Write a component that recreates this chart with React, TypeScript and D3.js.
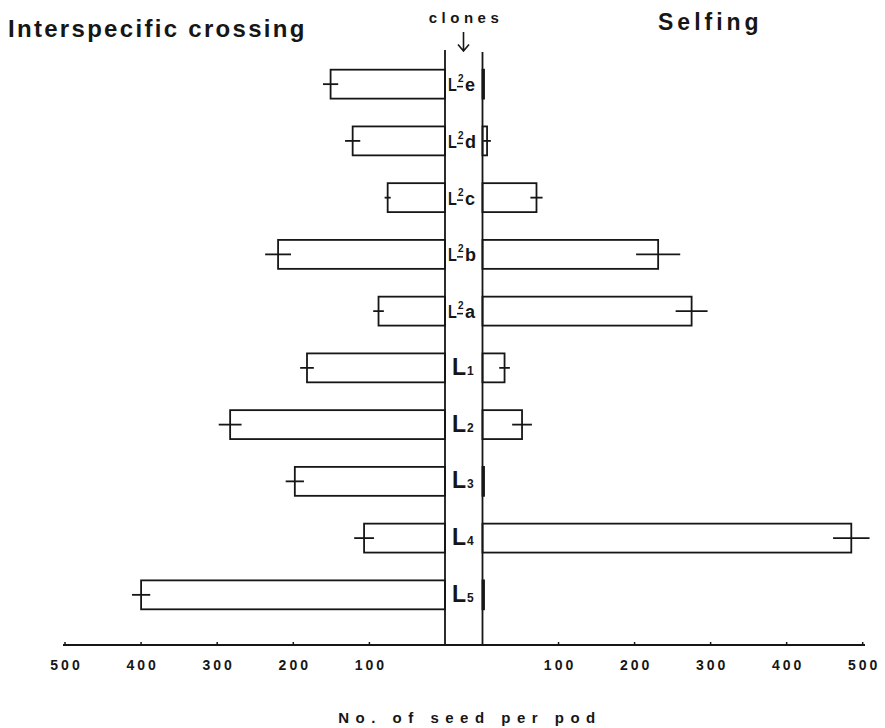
import React from 'react';
import * as d3 from 'd3';

// clones, top to bottom
const clones = ['L²e', 'L²d', 'L²c', 'L²b', 'L²a', 'L₁', 'L₂', 'L₃', 'L₄', 'L₅'];
// no. of seed per pod, interspecific crossing (left) and selfing (right)
const crossingMean = [151, 122, 76, 220, 88, 182, 283, 198, 107, 400];
const crossingErr = [10, 10, 4, 17, 7, 9, 15, 12, 13, 12];
const selfingMean = [2, 6, 71, 231, 275, 29, 52, 2, 485, 2];
const selfingErr = [0, 5, 8, 29, 21, 7, 13, 0, 24, 0];
const ticks = [100, 200, 300, 400, 500];

const W = 885, H = 728;
const axisY = 645;
const leftLine = 445, rightLine = 482.5;
const ink = '#161616';
const font = '"Liberation Sans", Arial, sans-serif';

const subDigits: Record<string, string> = { '₁': '1', '₂': '2', '₃': '3', '₄': '4', '₅': '5' };

function CloneLabel({ name, cy }: { name: string; cy: number }) {
  if (name.includes('²')) {
    const tail = name.slice(2);
    return (
      <g fontFamily={font} fontWeight="bold" fill={ink}>
        <text x={448} y={cy + 7} fontSize={18} transform={`translate(448,0) scale(0.8,1) translate(-448,0)`}>L</text>
        <text x={458} y={cy - 2} fontSize={10}>2</text>
        <line x1={457} x2={463} y1={cy + 2.5} y2={cy + 2.5} stroke={ink} strokeWidth={1.5} />
        <text x={465} y={cy + 7} fontSize={18}>{tail}</text>
      </g>
    );
  }
  const d = subDigits[name.slice(1)];
  return (
    <g fontFamily={font} fontWeight="bold" fill={ink}>
      <text x={452} y={cy + 7} fontSize={23}>L</text>
      <text x={467} y={cy + 7} fontSize={12}>{d}</text>
    </g>
  );
}

export default function App() {
  const y = d3.scaleBand<string>().domain(clones).range([55.5, 623.5]).paddingInner(0.49).paddingOuter(0.25);
  const xl = d3.scaleLinear().domain([0, 500]).range([leftLine + 0.5, 65]);
  const xr = d3.scaleLinear().domain([0, 500]).range([rightLine, 862.7]);
  const bw = y.bandwidth();

  return (
    <svg width={W} height={H} style={{ position: 'absolute', left: 0, top: 0, background: '#fff' }}>
      {/* titles */}
      <text x={8} y={37} fontFamily={font} fontWeight="bold" fontSize={24} letterSpacing={2.3} fill={ink}>
        Interspecific crossing
      </text>
      <text x={658} y={30} fontFamily={font} fontWeight="bold" fontSize={23} letterSpacing={4} fill={ink}>
        Selfing
      </text>
      <text x={466} y={23} textAnchor="middle" fontFamily={font} fontWeight="bold" fontSize={15} letterSpacing={4.5} fill={ink}>
        clones
      </text>
      <path d="M463.5,32 V51 M458,44.5 L463.5,51 L469,44.5" fill="none" stroke={ink} strokeWidth={1.6} />

      {/* centre column */}
      <line x1={leftLine} x2={leftLine} y1={50} y2={axisY} stroke={ink} strokeWidth={1.8} />
      <line x1={rightLine} x2={rightLine} y1={52} y2={axisY} stroke={ink} strokeWidth={1.8} />

      {/* crossing bars */}
      {clones.map((c, i) => {
        const top = y(c)!;
        const cy = top + bw / 2;
        const x0 = xl(crossingMean[i]);
        return (
          <g key={'l' + c} stroke={ink} strokeWidth={1.8} fill="none">
            <rect x={x0} y={top} width={leftLine - x0} height={bw} />
            <line x1={xl(crossingMean[i] + crossingErr[i])} x2={xl(crossingMean[i] - crossingErr[i])} y1={cy} y2={cy} />
          </g>
        );
      })}

      {/* selfing bars */}
      {clones.map((c, i) => {
        const top = y(c)!;
        const cy = top + bw / 2;
        const x1 = xr(selfingMean[i]);
        return (
          <g key={'r' + c} stroke={ink} strokeWidth={1.8} fill="none">
            <rect x={rightLine} y={top} width={x1 - rightLine} height={bw} />
            {selfingErr[i] > 0 && (
              <line x1={xr(selfingMean[i] - selfingErr[i])} x2={xr(selfingMean[i] + selfingErr[i])} y1={cy} y2={cy} />
            )}
          </g>
        );
      })}

      {/* clone labels */}
      {clones.map((c) => (
        <CloneLabel key={'t' + c} name={c} cy={y(c)! + bw / 2} />
      ))}

      {/* x axis */}
      <line x1={63} x2={865} y1={axisY} y2={axisY} stroke={ink} strokeWidth={2} />
      {ticks.map((t) => (
        <g key={'tk' + t} stroke={ink} strokeWidth={1.5}>
          <line x1={xl(t)} x2={xl(t)} y1={axisY} y2={axisY - 3} />
          <line x1={xr(t)} x2={xr(t)} y1={axisY} y2={axisY - 3} />
        </g>
      ))}
      {ticks.map((t) => (
        <g key={'tl' + t} fontFamily={font} fontWeight="bold" fontSize={14} letterSpacing={3} fill={ink} textAnchor="middle">
          <text x={xl(t) + 1.5} y={670}>{t}</text>
          <text x={xr(t) + 1.5} y={670}>{t}</text>
        </g>
      ))}
      <text x={470} y={723} textAnchor="middle" fontFamily={font} fontWeight="bold" fontSize={15} letterSpacing={6.5} fill={ink}>
        No. of seed per pod
      </text>
    </svg>
  );
}
